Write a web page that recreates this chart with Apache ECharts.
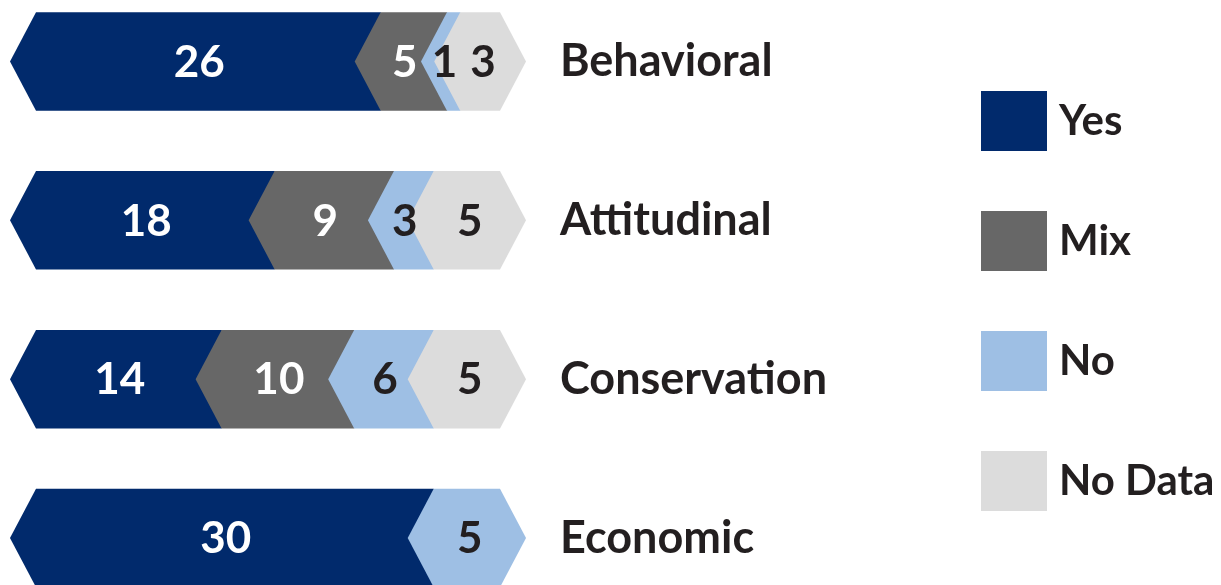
<!DOCTYPE html>
<html>
<head>
<meta charset="utf-8">
<script src="https://cdn.jsdelivr.net/npm/echarts@6/dist/echarts.min.js"></script>
<style>html,body{margin:0;padding:0;background:#fff}#c{width:1221px;height:585px}</style>
</head>
<body>
<div id="c"></div>
<script>
const categories = ['Behavioral', 'Attitudinal', 'Conservation', 'Economic'];
const seriesNames = ['Yes', 'Mix', 'No', 'No Data'];
const yesValues = [26, 18, 14, 30];
const mixValues = [5, 9, 10, 0];
const noValues = [1, 3, 6, 5];
const noDataValues = [3, 5, 5, 0];
const colors = ['#012a6c', '#676767', '#9ebfe4', '#dcdcdc'];
const labelColors = ['#ffffff', '#ffffff', '#231f20', '#231f20'];

const allValues = [yesValues, mixValues, noValues, noDataValues];
const FONT = 'Lato, "Open Sans", sans-serif';

// cumulative stacking
const starts = categories.map(() => 0);
const seriesData = allValues.map(vals => vals.map((v, i) => {
  const s = starts[i];
  starts[i] += v;
  return [s, s + v, i, v];
}));
const totals = starts.slice();

function makeRender(si) {
  return function (params, api) {
    const v = api.value(3);
    if (!v) return null;
    const row = api.value(2);
    const p0 = api.coord([api.value(0), row]);
    const p1 = api.coord([api.value(1), row]);
    const band = api.size([0, 1])[1];
    const h = band * 0.62 / 2;
    const d = 26;
    const yc = p0[1];
    const x0 = p0[0], x1 = p1[0];
    const isLast = api.value(1) >= totals[row];
    const lx = isLast ? (x0 + x1) / 2 + 3 : (x0 - d + x1) / 2 + 4;
    return {
      type: 'group',
      children: [{
        type: 'polygon',
        z2: si,
        shape: { points: [[x0 - d, yc], [x0, yc - h], [x1, yc - h], [x1 + d, yc], [x1, yc + h], [x0, yc + h]] },
        style: { fill: api.visual('color') }
      }, {
        type: 'text',
        z2: 100,
        style: {
          text: String(v), x: lx, y: yc + 1,
          fill: labelColors[si], fontSize: 44, fontWeight: 'bold', fontFamily: FONT,
          align: 'center', verticalAlign: 'middle'
        }
      }]
    };
  };
}

const chart = echarts.init(document.getElementById('c'), null, { renderer: 'canvas' });
chart.setOption({
  animation: false,
  backgroundColor: '#ffffff',
  grid: { left: 36, width: 464, top: 61.5, bottom: 47 },
  xAxis: { type: 'value', min: 0, max: 35, show: false },
  yAxis: {
    type: 'category', data: categories, inverse: true, position: 'right', boundaryGap: false,
    axisLine: { show: false }, axisTick: { show: false }, splitLine: { show: false },
    axisLabel: { margin: 60, align: 'left', fontSize: 45, fontWeight: 'bold', fontFamily: FONT, color: '#231f20' }
  },
  legend: {
    orient: 'vertical', left: 981, top: 91, padding: 0, itemWidth: 66, itemHeight: 60, itemGap: 60,
    icon: 'rect', data: seriesNames,
    textStyle: { fontSize: 42, fontWeight: 'bold', fontFamily: FONT, color: '#231f20', padding: [0, 0, 0, 7] }
  },
  series: seriesNames.map((name, si) => ({
    type: 'custom', name: name,
    itemStyle: { color: colors[si] },
    renderItem: makeRender(si),
    encode: { x: [0, 1], y: 2 },
    data: seriesData[si],
    z: 2
  }))
});
</script>
</body>
</html>
